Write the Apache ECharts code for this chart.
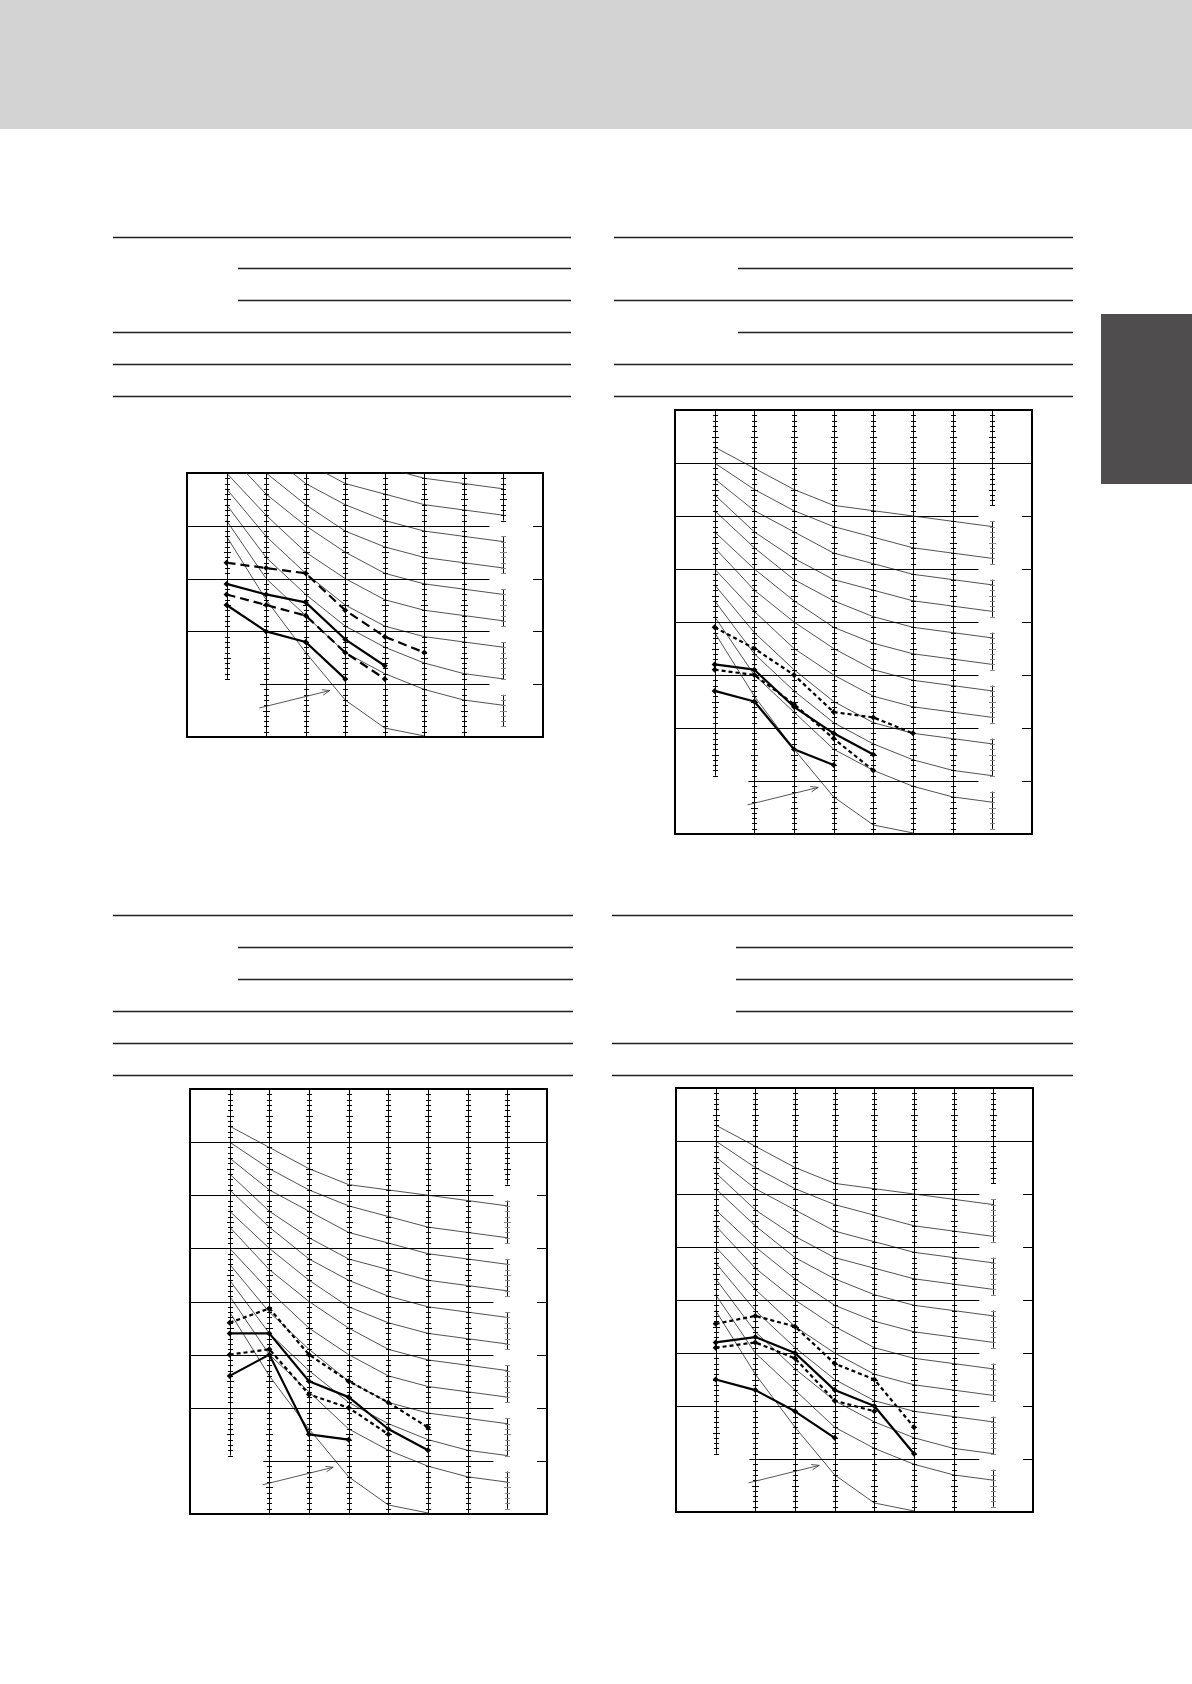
<!DOCTYPE html>
<html><head><meta charset="utf-8">
<script src="https://cdn.jsdelivr.net/npm/echarts/dist/echarts.min.js"></script>
<style>html,body{margin:0;padding:0;background:#fff;}#c{width:1192px;height:1684px;}</style>
</head><body><div id="c"></div>
<script>
// ---- octave bands (x categories at positions 1..8) ----
const bands = ['63','125','250','500','1k','2k','4k','8k'];

// ---- background NC curves (dB per band) ----
const nc15 = [48, 36, 26, 17, 11.7, 10.2, null, null];
const nc20 = [51, 40, 33, 26, 22, 19, 17, 16];
const nc25 = [54, 44, 37, 31, 27, 24, 22, 21];
const nc30 = [57, 48, 41, 35, 31, 29, 28, 27];
const nc35 = [60, 52, 45, 40, 36, 34, 33, 32];
const nc40 = [64, 56, 50, 45, 41, 39, 38, 37];
const nc45 = [67, 60, 54, 49, 46, 44, 43, 42];
const nc50 = [71, 64, 58, 54, 51, 49, 48, 47];
const nc55 = [74, 67, 62, 58, 56, 54, 53, 52];
const nc60 = [77, 71, 67, 63, 61, 59, 58, 57];
const nc65 = [80, 75, 71, 68, 66, 64, 63, 62];
const nc70 = [83, 79, 75, 72, 71, 70, 69, 68];

// ---- measured spectra ----
const c1Dash1  = [43, 42, 41, 34, 29, 26];
const c1Solid1 = [39, 37, 35.5, 28.5, 23.5];
const c1Dash2  = [37, 35, 33, 26, 21];
const c1Solid2 = [35, 30, 28, 21];

const c2Dot1   = [49, 45, 40, 33, 32, 29];
const c2Solid1 = [42, 41, 34, 29, 25];
const c2Dot2   = [41, 40, 34.5, 28, 22];
const c2Solid2 = [37, 35, 26, 23];

const c3Dot1   = [46, 48.7, 40, 35, 31, 26.3];
const c3Solid1 = [44, 44, 35, 32, 26, 22];
const c3Dot2   = [40, 41, 32.5, 30, 25];
const c3Solid2 = [36, 40, 25, 24];

const c4Dot1   = [45.5, 47, 45, 38, 35, 26];
const c4Solid1 = [42, 43, 40, 33, 30, 21];
const c4Dot2   = [41, 42, 39, 31, 29];
const c4Solid2 = [35, 33, 29, 24];

// ---- axis / grid values ----
const gridVals1 = [20, 30, 40, 50];
const gridVals2 = [20, 30, 40, 50, 60, 70, 80];
const col8Segs1 = [[51, 60], [41, 48], [31, 38], [21, 28], [12, 18]];
const col8Segs2 = [[72, 90], [61, 69], [51, 58], [41, 48], [31, 38], [21, 28], [11, 18]];
const arrowFrom = [1.83, 15.5];
const arrowTo = [3.61, 18.8];

const ncCurves = [nc15, nc20, nc25, nc30, nc35, nc40, nc45, nc50, nc55, nc60, nc65, nc70];

const panels = [
  {box:{left:187, top:473, width:356, height:264}, yMin:10, yMax:60, gridVals:gridVals1, fullLine:null, col8:col8Segs1,
   lines:[[c1Dash1,'dash'],[c1Solid1,'solid'],[c1Dash2,'dash'],[c1Solid2,'solid']]},
  {box:{left:675, top:410, width:357, height:424}, yMin:10, yMax:90, gridVals:gridVals2, fullLine:80, col8:col8Segs2,
   lines:[[c2Dot1,'dot'],[c2Solid1,'solid'],[c2Dot2,'dot'],[c2Solid2,'solid']]},
  {box:{left:190, top:1089, width:357, height:425}, yMin:10, yMax:90, gridVals:gridVals2, fullLine:80, col8:col8Segs2,
   lines:[[c3Dot1,'dot'],[c3Solid1,'solid'],[c3Dot2,'dot'],[c3Solid2,'solid']]},
  {box:{left:676, top:1088, width:357, height:424}, yMin:10, yMax:90, gridVals:gridVals2, fullLine:80, col8:col8Segs2,
   lines:[[c4Dot1,'dot'],[c4Solid1,'solid'],[c4Dot2,'dot'],[c4Solid2,'solid']]}
];

const GAP = [7.65, 8.75], LOW_START = 1.85, COL1_BOTTOM = 21;
const snap = v => Math.round(v) + 0.5;

function toXY(arr){ const out=[]; arr.forEach((v,i)=>{ if(v!=null) out.push([i+1, v]); }); return out; }

function renderColumn(params, api){
  const x = api.value(0), y0 = api.value(1), y1 = api.value(2), light = api.value(3);
  const a = api.coord([x, y0]), b = api.coord([x, y1]);
  const px = snap(a[0]);
  const ch = [{type:'line', shape:{x1:px, y1:a[1], x2:px, y2:b[1]}, style:{stroke:'#000', lineWidth:1}}];
  for (let v = Math.ceil(y0); v <= Math.floor(y1); v++){
    const p = api.coord([x, v]);
    const h = (v % 5 === 0) ? 3.5 : 2.5;
    const py = snap(p[1]);
    ch.push({type:'line', shape:{x1:px-h, y1:py, x2:px+h, y2:py}, style:{stroke: light ? '#8a8a8a' : '#000', lineWidth:1}});
  }
  return {type:'group', children:ch};
}
function renderHLine(params, api){
  const y = api.value(0), x0 = api.value(1), x1 = api.value(2);
  const a = api.coord([x0, y]), b = api.coord([x1, y]);
  const py = snap(a[1]);
  return {type:'line', shape:{x1:a[0], y1:py, x2:b[0], y2:py}, style:{stroke:'#000', lineWidth:1}};
}
function renderArrow(params, api){
  const a = api.coord([api.value(0), api.value(1)]), b = api.coord([api.value(2), api.value(3)]);
  const ang = Math.atan2(b[1]-a[1], b[0]-a[0]);
  const L = 8, s = 0.35;
  const h1 = [b[0]-L*Math.cos(ang-s), b[1]-L*Math.sin(ang-s)];
  const h2 = [b[0]-L*Math.cos(ang+s), b[1]-L*Math.sin(ang+s)];
  const st = {stroke:'#444', lineWidth:0.9, fill:null};
  return {type:'group', children:[
    {type:'line', shape:{x1:a[0], y1:a[1], x2:b[0], y2:b[1]}, style:st},
    {type:'polyline', shape:{points:[h1, b, h2]}, style:st}
  ]};
}

const grids = [], xAxes = [], yAxes = [], series = [];
panels.forEach((p, i) => {
  grids.push(Object.assign({show:true, borderColor:'#000', borderWidth:2, backgroundColor:'rgba(0,0,0,0)'}, p.box));
  xAxes.push({type:'value', gridIndex:i, min:0, max:9, interval:1, show:false});
  yAxes.push({type:'value', gridIndex:i, min:p.yMin, max:p.yMax, interval:10, show:false});
  // NC curves
  ncCurves.forEach(c => series.push({type:'line', xAxisIndex:i, yAxisIndex:i, data:toXY(c), symbol:'none', silent:true,
    clip:true, z:2, lineStyle:{color:'#333333', width:0.85}}));
  // columns with ticks
  const colData = [[1, COL1_BOTTOM, p.yMax, 0]];
  for (let c = 2; c <= 7; c++) colData.push([c, p.yMin, p.yMax, 0]);
  p.col8.forEach((s, k) => colData.push([8, s[0], s[1], (k === 0) ? 0 : 1]));
  series.push({type:'custom', xAxisIndex:i, yAxisIndex:i, data:colData, renderItem:renderColumn, silent:true, z:3,
    encode:{x:0, y:[1,2]}});
  // horizontal grid lines (with gaps)
  const hData = [];
  p.gridVals.forEach(v => {
    if (v === p.fullLine) { hData.push([v, 0, 9]); return; }
    hData.push([v, v === 20 ? LOW_START : 0, GAP[0]]);
    hData.push([v, GAP[1], 9]);
  });
  series.push({type:'custom', xAxisIndex:i, yAxisIndex:i, data:hData, renderItem:renderHLine, silent:true, z:3,
    encode:{x:[1,2], y:0}});
  // arrow
  series.push({type:'custom', xAxisIndex:i, yAxisIndex:i, data:[[arrowFrom[0], arrowFrom[1], arrowTo[0], arrowTo[1]]],
    renderItem:renderArrow, silent:true, z:4, encode:{x:[0,2], y:[1,3]}});
  // measured lines
  p.lines.forEach(([d, st]) => {
    const type = st === 'solid' ? 'solid' : (st === 'dash' ? [9, 5] : [4, 3]);
    series.push({type:'line', xAxisIndex:i, yAxisIndex:i, data:toXY(d), symbol:'diamond', symbolSize:6,
      itemStyle:{color:'#000'}, lineStyle:{color:'#000', width:2.2, type:type}, z:6, clip:true});
  });
});

// page decoration: header band, side tab, table rules
const rules = [
  [113,571,237.5],[238,571,268.5],[238,571,300.5],[113,571,332.5],[113,571,364.5],[113,571,396.5],
  [614,1073,237.5],[738,1073,268.5],[614,1073,300.5],[738,1073,332.5],[614,1073,364.5],[614,1073,396.5],
  [113,573,915.5],[238,573,947.5],[238,573,979.5],[113,573,1011.5],[113,573,1043.5],[113,573,1075.5],
  [612,1073,915.5],[736,1073,947.5],[736,1073,979.5],[736,1073,1011.5],[612,1073,1043.5],[612,1073,1075.5]
];
const graphic = [
  {type:'rect', shape:{x:0, y:0, width:1192, height:129}, style:{fill:'#d3d3d3'}, z:-10},
  {type:'rect', shape:{x:1101, y:314, width:91, height:170}, style:{fill:'#4f4d4d'}, z:-10}
].concat(rules.map(r => ({type:'line', shape:{x1:r[0], y1:r[2], x2:r[1], y2:r[2]}, style:{stroke:'#231f20', lineWidth:1.4}, z:-5})));

const chart = echarts.init(document.getElementById('c'), null, {renderer:'canvas', width:1192, height:1684});
chart.setOption({animation:false, backgroundColor:'#fff', grid:grids, xAxis:xAxes, yAxis:yAxes, series:series, graphic:graphic});
</script>
</body></html>
